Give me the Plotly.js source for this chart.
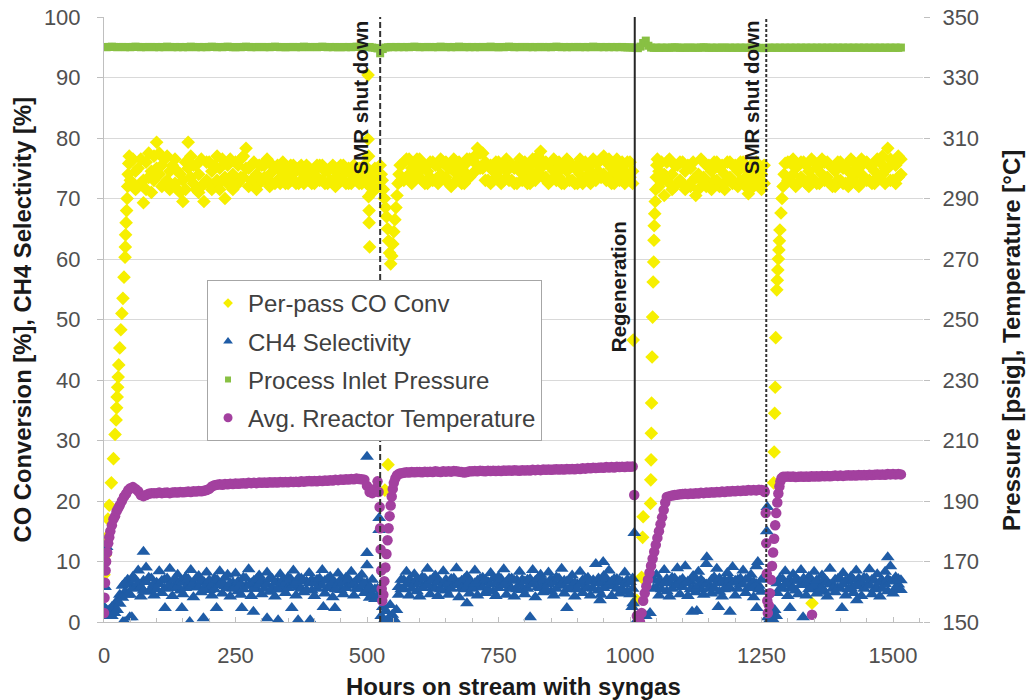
<!DOCTYPE html>
<html><head><meta charset="utf-8">
<script src="https://cdn.plot.ly/plotly-3.0.1.min.js"></script>
<style>html,body{margin:0;padding:0;background:#fff}#chart{width:1030px;height:700px}</style>
</head><body><div id="chart"></div>
<script>
// Sampling grid (hours on stream), 5 h steps
const hours = [
0,5,10,15,20,25,30,35,40,45,
50,55,60,65,70,75,80,85,90,95,
100,105,110,115,120,125,130,135,140,145,
150,155,160,165,170,175,180,185,190,195,
200,205,210,215,220,225,230,235,240,245,
250,255,260,265,270,275,280,285,290,295,
300,305,310,315,320,325,330,335,340,345,
350,355,360,365,370,375,380,385,390,395,
400,405,410,415,420,425,430,435,440,445,
450,455,460,465,470,475,480,485,490,495,
500,505,510,515,520,525,530,535,540,545,
550,555,560,565,570,575,580,585,590,595,
600,605,610,615,620,625,630,635,640,645,
650,655,660,665,670,675,680,685,690,695,
700,705,710,715,720,725,730,735,740,745,
750,755,760,765,770,775,780,785,790,795,
800,805,810,815,820,825,830,835,840,845,
850,855,860,865,870,875,880,885,890,895,
900,905,910,915,920,925,930,935,940,945,
950,955,960,965,970,975,980,985,990,995,
1000,1005,1010,1015,1020,1025,1030,1035,1040,1045,
1050,1055,1060,1065,1070,1075,1080,1085,1090,1095,
1100,1105,1110,1115,1120,1125,1130,1135,1140,1145,
1150,1155,1160,1165,1170,1175,1180,1185,1190,1195,
1200,1205,1210,1215,1220,1225,1230,1235,1240,1245,
1250,1255,1260,1265,1270,1275,1280,1285,1290,1295,
1300,1305,1310,1315,1320,1325,1330,1335,1340,1345,
1350,1355,1360,1365,1370,1375,1380,1385,1390,1395,
1400,1405,1410,1415,1420,1425,1430,1435,1440,1445,
1450,1455,1460,1465,1470,1475,1480,1485,1490,1495,
1500,1505,1510,1515
];

// Per-pass CO conversion [%], first reading at each grid time
const coConv = [
null,null,null,null,null,null,null,null,null,null,
73,76.5,71.5,75,72.5,69.3,76,73.5,71,77,
79.3,74,72,76.5,73,71.5,75.5,72.5,74.5,71,
69.5,76,79.3,73.5,75.5,71.5,74,72,69.5,73,
76,74.5,72,77,75,73,70,72.5,76.5,74,
72.5,75.5,73.5,77,78.3,75,73,76,74,72.5,
75.5,73.5,76.5,74,72.5,75,73,74.5,76,72.5,
74,75.5,73,74.5,72.5,75.5,74,73,75,72.5,
74.5,73.5,75.5,73,72.5,74.5,75,73,72,74,
75.5,73,74.5,72.5,74,73.5,75,72.5,74,73.5,
72.5,74,71,72.5,74,73,null,null,null,null,
null,null,null,75.5,73,76.5,74,72.5,75.5,76.5,
73.5,75,72.5,74.5,76,73,75.5,72.5,74,76,
73.5,75,72,74.5,76,73.5,75,72.5,74,76.5,
74,77,78.3,77.5,75,73,75.5,72.5,74.5,76,
73.5,75,73,74.5,76,73,75,72.5,74.5,76,
73.5,75,72.5,74,76,77,77.8,76,73.5,75.5,
73,74.5,76,73.5,75,72.5,74.5,76,73,75,
72.5,74,75.5,73.5,75,72.5,74,76,74.5,76.5,
77,76,73.5,75,72.5,74,75.5,73,74.5,76,
73.5,74.5,null,null,null,null,null,null,null,null,
null,74.5,76,70.5,73.5,76.5,74,72,75.5,73,
76,74.5,72,75,73,70.5,74,76.5,73.5,75.5,
72.5,74.5,76,73,75,72,74,76,73.5,75.5,
72.5,74.5,76,73,75,70.8,72.5,75,73.5,75.5,
74,72.5,null,null,null,null,null,null,null,null,
73,76,74,72,75.5,73.5,76,72.5,74.5,76.5,
73,75,72.5,74,76,73.5,75.5,72,74.5,76,
73,75,72.5,74.5,76.5,73.5,75,72,74,76,
73,75.5,72.5,74.5,76.5,73.5,77,75,78.3,73,
76,72.5,77,74
];
// Per-pass CO conversion [%], second reading at each grid time
const coConvB = [
null,null,null,null,null,null,null,null,null,null,
76,72.5,74.5,72,76.5,73,71.5,77.5,74.5,73,
75,77.5,75.5,72.5,77,74.5,72,76.5,71.5,74,
73,71.5,75,77,72.5,75.5,71,76.5,72.5,76,
72.5,71.5,75.5,73,71.5,76.5,73.5,75.5,72.5,71.5,
76,72.5,76.5,73.5,75,72,75.5,73,71.5,75.5,
73,75.5,73,72,75.5,72.5,75.5,72.5,73.5,75,
72.5,73,75.5,72.5,75,73,72.5,75.5,73,74.5,
72.5,75.5,73,75.5,74.5,72.5,73,75.5,74.5,72.5,
73,75.5,72.5,75,72.5,75.5,73,75,72.5,75.5,
75,72,73.5,75,72,75.5,null,null,null,null,
null,null,null,73,76,73.5,76.5,75,73,74,
76.5,73,75.5,72.5,73.5,76,73,75.5,76.5,73.5,
76,72.5,75,76.5,73,76,72.5,75.5,76.5,73.5,
76.5,74.5,75.5,75,77.5,76,73,75.5,73,73.5,
76,72.5,75.5,76.5,73,75.5,72.5,75.5,76.5,73,
76,72.5,75.5,76.5,73,74.5,75,73.5,76,72.5,
75.5,76.5,73,76,72.5,75.5,76.5,73,75.5,72.5,
75.5,76.5,72.5,76,73,75.5,76.5,73,76,73.5,
74,73,76.5,72.5,75.5,76.5,73,76,72.5,73.5,
76,72.5,null,null,null,null,null,null,null,null,
null,72,73,74,76,72.5,71.5,75.5,72.5,76,
72.5,71.5,75.5,72,76,73.5,71.5,73,76,72,
75.5,71.5,73,76,72,75.5,71.5,73,76,72.5,
75.5,72,73,76,72,74,75.5,72,76,72.5,
71.5,75.5,null,null,null,null,null,null,null,null,
76,73,76.5,75,72.5,76,73,75.5,72,73.5,
76,72.5,75.5,76.5,73,76,72.5,75,72,73,
76,72.5,75.5,72,73,76,72.5,75,76.5,73,
76,73,75.5,72.5,73.5,76,74,72.5,75,76.5,
73,75.5,73.5,76.5
];
// CO conversion readings during start-ups and upsets
const coExtraHours = [
0,2,5,7.5,10,14,18,21,23,24,25,26,27,28,30,32,34,36,38,40,40.5,41,42,43,44,45,46,47,48,
502,502,503,503,504,504,505,
527,529,531,533,535,537,539,541,543,545,547,549,551,553,555,557,559,561,563,
534,540,
1006,
1013,1022,1024,1025,
1039,1039.5,1040,1040.5,1041,1042,1043,1044,1045,1045.5,1046,1047,1048,1049,1050,1051,1052,
1273,1274,1275,1276,1277,1279,1280,1281,1282,1283,1284,1285,1287,1289,1291,1293,1295,
1346
];
const coConvExtra = [
7.8,11,14,17,19.3,23,27,31,33.4,35.4,37.2,38.8,40.5,42.5,45.3,48.3,51,53.5,57,60.3,62,64,66,68,70,72,74,75.8,77,
90.4,79.8,77,70.3,68,66,62,
74,73,71.5,70,68.5,67,65,63,61,59.2,60.5,62.5,64.5,66.5,68.5,70.5,72.5,74,75.5,
21.8,26,
46.6,
3.6,7.4,14,17.4,
19.6,23.5,26.8,31.2,36.2,43.8,50.4,56.2,59.5,63.1,65.5,67.5,69.5,71.5,73.5,75.5,76.5,
23,28.1,34.5,38.8,47,54.9,56.5,58.2,60,61.5,63,64.8,67.6,70,72,74,75.8,
3.1
];

// CH4 selectivity [%], first reading at each grid time
const ch4Sel = [
1.5,1,2,1,2.5,3.5,4.5,6,5,7,
4.5,7.5,5.5,8.5,4.2,6.8,9,5,7.2,4.4,
6.5,8.4,4.8,7,5.6,8.8,4.3,6.2,7.8,5.2,
4.6,7.4,6,8.6,4.1,5.8,7.6,4.9,6.6,8.2,
5.3,4.4,7.2,6.1,8.4,4.7,5.9,7.8,4.2,6.5,
8,5.1,4.5,7.3,6,8.7,4.3,6.8,5.5,7.7,
4.6,6.3,8.2,5,7.1,4.2,6.6,7.9,5.4,4.8,
7.4,6,8.5,4.4,5.8,7.2,4.9,6.7,8.1,5.2,
4.3,7,6.2,8.6,4.7,5.6,7.5,4.1,6.4,8,
5.3,4.6,7.3,6,8.3,4.4,6.9,5.5,7.8,4.8,
6.5,4,7,3.8,5.5,null,null,null,null,null,
null,null,4.5,7,5.5,8.3,4.4,6.6,7.9,5.1,
4.2,7.4,6,8.8,4.6,5.7,7.7,4.3,6.5,8.4,
5.2,4.5,7.1,6.2,8.9,4.1,6.8,5.4,7.6,4.7,
6.3,8.5,4.4,5.9,7.3,4.8,6.6,8.1,5,4.3,
7.5,6.1,8.7,4.5,5.6,7.2,4.2,6.9,8.3,5.3,
4.6,7,6.3,8.6,4.1,5.8,7.8,4.9,6.4,8.2,
5.1,4.4,7.4,6,8.8,4.7,6.7,5.5,7.7,4.2,
6.2,8.3,4.8,5.7,7.3,4.4,6.9,9.6,5.2,4.5,
7.6,6.1,8.5,4.3,5.9,7.1,4.7,6.6,8.2,5,
4.6,7.2,null,null,null,null,null,null,null,5.5,
7.8,4.4,6.5,8.6,5.1,4.2,7.3,6,8.9,4.6,
5.8,9.2,4.3,6.7,7.6,4.9,8.3,5.4,4.5,9.6,
6.2,4.7,7.4,8.8,5,4.2,6.9,8.1,5.6,9.1,
4.4,7,6.3,8.5,4.8,5.7,7.8,4.1,9.2,6,
5,null,null,null,null,null,4.8,7.2,5.6,8.4,
4.3,6.8,7.9,5.2,4.6,8.6,6.1,4.4,7.5,5.8,
8.3,4.7,6.5,7.7,5,4.2,8.8,6.3,4.9,7.1,
5.5,8.1,4.4,6.7,7.5,4.8,8.5,5.9,4.3,7.3,
6,8.7,4.6,5.4,7.9,4.2,6.8,8.3,5.1,9.2,
4.7,7.4,6.2,5.3
];
// CH4 selectivity [%], second reading at each grid time
const ch4SelB = [
2.5,2,1,2.5,1.5,2,3,4,6.5,4.5,
6.2,5.6,7,6.4,5.8,5.2,6.6,7.3,5.5,6.3,
5.4,6.3,6.8,5.5,7.2,6.1,5.6,7.1,5.9,6.7,
6.5,5.6,7.1,6,6.4,7.2,5.7,6.8,5.3,6.2,
6.9,6.1,5.4,7,6.2,6.6,7.3,5.6,6.4,5.5,
5.8,6.7,6.3,5.4,7.2,6,6.4,5.5,7.1,6.2,
6.8,5.5,6.2,7.2,5.6,6.5,5.4,6.1,7,6.4,
5.6,7.1,6.2,6.5,7.3,5.5,6.8,5.3,6.4,7,
6.6,5.5,7.2,6,6.8,7.1,5.6,6.5,5.4,6.2,
7,6.5,5.6,7.1,6.2,6.4,5.5,7.2,6,6.3,
5.2,5.8,4.6,5.4,4.4,null,null,null,null,null,
null,null,5.8,5.4,6.9,6.2,7,5.5,6.3,7.1,
6.6,5.6,7.2,6.3,6.9,7.1,5.5,6.7,5.4,6.2,
7,6.4,5.5,7.2,6.1,6.5,5.6,7.1,5.8,6.6,
5.5,6.4,6.8,7.1,5.7,7,5.4,6.2,7.2,6.5,
5.6,7.1,6.2,6.6,7.2,5.5,6.8,5.4,6.3,7,
6.7,5.5,7.1,6.2,6.8,7.2,5.6,6.9,5.4,6.3,
7.1,6.6,5.5,7.2,6.2,6.8,5.4,7,5.8,6.5,
5.4,6.3,6.9,7.1,5.6,6.7,5.5,6.4,7.2,6.6,
5.6,7.2,6.3,6.7,7.1,5.5,6.8,5.4,6.2,7,
6.6,5.5,null,null,null,null,null,null,null,7,
5.6,6.8,5.4,6.4,7.1,6.6,5.5,7.2,6.2,6.8,
7.1,6.4,6.7,5.4,5.6,7.2,6,7,6.5,6.2,
5.5,7,5.6,6.4,7.2,6.6,5.4,6.1,7.1,6.5,
6.8,5.5,7.2,6.2,7,7.1,5.6,6.6,6.3,5.4,
7,null,null,null,null,null,6.4,5.5,7.1,6.2,
6.6,5.5,5.6,7.1,6.8,6.2,7.2,6.5,5.4,7,
6.1,6.9,5.4,5.6,7.1,6.6,6.2,5.5,7,5.6,
7.1,6.2,6.8,5.4,5.6,7,6.1,7.2,6.6,5.5,
7.2,6.1,7,6.8,5.6,6.6,5.5,6.3,7.1,6.7,
6.8,5.6,7.1,6.9
];
// CH4 selectivity outliers and upset readings
const ch4ExtraHours = [
2,5,36,40,49,53,75,116,148,163,189,214,262,284,310,331,357,369,392,417,439,
500,500,500,523,523,527,530,533,536,540,544,548,552,556,
690,810,880,943,949,1004,1006,1008,1015,1030,1038,
1118,1127,1146,1168,1190,1241,1243,1260,1261,1262,1265,1268,1271,1275,1278,
1304,1329,1403,1431,1490
];
const ch4SelExtra = [
5.8,12.4,0,0,0.8,0.8,11.6,2.3,2.3,0,0.6,2.3,2.3,1.7,0.6,0.3,2.3,0.3,0.3,2.5,2.3,
27.3,11.4,9.4,17.2,15.2,1,2.5,0.3,1.8,0.5,2.8,1.2,0.4,2,
3.1,0.8,2.3,3.6,9.9,2.5,3.1,14.7,0.5,1,1.5,
1.7,1.8,10.7,2.5,1.7,2.3,9.9,15,19,0.8,0.3,1.5,0.5,2,1,
2.3,0.8,2.3,3.6,10.7
];

// Process inlet pressure [psig] on the grid
const inletPressure = [
340.1,340,340.1,340.2,340.1,340,340.1,340.1,340,340.1,
340,340.1,340.2,340.1,340,340.1,340,340.1,340.1,340,
340.1,340,340.1,340,340.2,340.1,340,340.1,340,340.1,
340,340.1,340,340.2,340.1,340,340.1,340,340.1,340,
340.1,340.2,340.1,340,340.1,340,340.1,340.2,340.1,340,
340,340.1,340,340.1,340.2,340.1,340,340.1,340,340.1,
340.1,340,340.1,340,340.1,340.2,340.1,340,340.1,340,
340,340.1,340.1,340,340.1,340,340.2,340.1,340,340.1,
340.1,340,340.1,340.2,340.1,340,340.1,340,340.1,340,
340,340.1,340,340.1,340,340.1,340.2,340.1,340,340.1,
340,340.1,339.9,339.8,339.6,338,339.4,339.9,340,340.1,
340,340.1,340,340.1,340,340.1,340,340.1,340.2,340.1,
340,340.1,340,340.1,340.1,340,340.1,340,340.2,340.1,
340,340.1,340,340.1,340,340.2,340.1,340,340.1,340,
340.1,340,340.1,340,340.1,340.1,340,340.2,340.1,340,
340,340.1,340,340.1,340.2,340.1,340,340.1,340,340.1,
340.1,340,340.1,340,340.1,340,340.1,340.1,340,340.1,
340,340.1,340.2,340.1,340,340.1,340,340.1,340,340.1,
340.1,340,340.1,340,340.1,340,340.2,340.1,340,340.1,
340,340.1,340,340.1,340,340.1,340,340.1,340,339.9,
340,339.9,339.8,339.7,340.2,341.4,342.2,340.5,339.9,339.8,
339.9,339.8,339.9,339.8,339.9,339.8,339.9,340,339.9,339.8,
339.9,339.8,339.9,339.9,339.8,339.9,339.8,339.9,340,339.9,
339.8,339.9,339.8,339.9,339.8,339.9,339.9,339.8,339.9,339.8,
339.9,339.8,339.9,339.8,339.9,339.8,339.9,339.8,339.9,339.8,
339.8,339.7,339.8,339.9,339.8,339.9,339.8,339.9,339.8,339.9,
339.8,339.9,339.8,339.9,339.8,339.9,339.8,339.9,339.8,339.9,
339.8,339.9,339.8,339.9,339.8,339.9,339.8,339.9,339.8,339.9,
339.8,339.9,339.8,339.9,339.8,339.9,339.8,339.9,339.8,339.9,
339.8,339.9,339.8,339.9,339.8,339.9,339.8,339.9,339.8,339.9,
339.8,339.9,339.8,339.9
];

// Average reactor temperature [°C] on the grid
const reactorTemp = [
null,null,null,null,null,null,null,null,null,null,
194.2,194.6,194,193.2,192,191.6,192,192.4,192.6,192.6,
192.6,192.8,192.6,192.7,192.8,192.6,192.8,192.9,192.8,193,
192.9,193,193.1,193,193.2,193.1,193.3,193.2,193.4,193.6,
194,194.8,195.2,195.4,195.5,195.4,195.6,195.5,195.7,195.6,
195.8,195.7,195.8,195.9,195.8,196,195.9,196,195.9,196.1,
196,196.1,196,196.2,196.1,196.2,196.1,196.3,196.2,196.3,
196.2,196.4,196.3,196.4,196.3,196.5,196.4,196.5,196.6,196.5,
196.6,196.5,196.7,196.6,196.8,196.7,196.9,196.8,197,196.9,
197.1,197,197.2,197.1,197.3,197.2,197.4,197.3,197.2,197,
195,193,192.6,194,196.5,null,null,null,null,null,
null,null,null,null,199.3,199.5,199.4,199.6,199.5,199.6,
199.6,199.5,199.7,199.6,199.7,199.6,199.8,199.7,199.6,199.8,
199.7,199.8,199.7,199.9,199.8,199.7,199.6,199.4,199.6,199.8,
199.8,199.9,199.8,200,199.9,199.8,200,199.9,200,199.9,
200,199.9,200.1,200,200.1,200,200.2,200.1,200,200.2,
200.1,200.2,200.1,200.3,200.2,200.3,200.2,200.4,200.3,200.4,
200.3,200.4,200.5,200.4,200.5,200.4,200.6,200.5,200.6,200.5,
200.7,200.6,200.8,200.7,200.9,200.8,201,200.9,201,201.1,
201,201.2,201.1,201.2,201.1,201.3,201.2,201.3,201.2,201.4,
201.3,201.4,null,null,null,null,null,null,null,null,
null,null,null,null,191.3,191.6,191.8,192,192.1,192.2,
192.3,192.4,192.3,192.5,192.4,192.6,192.5,192.7,192.6,192.8,
192.7,192.9,192.8,193,192.9,193.1,193,193.2,193.1,193.3,
193.2,193.4,193.3,193.5,193.4,193.6,193.5,193.6,193.5,193.7,
193.6,193.5,null,null,null,null,null,null,null,198,
198.1,198,198.1,197.9,198,198.1,198,198.1,198,198.2,
198.1,198.2,198.1,198.3,198.2,198.3,198.2,198.3,198.4,198.3,
198.4,198.3,198.4,198.5,198.4,198.5,198.4,198.6,198.5,198.6,
198.5,198.7,198.6,198.7,198.8,198.7,198.8,198.7,198.9,198.8,
198.9,198.8,198.9,198.8
];
// Temperature readings during start-ups and shutdowns
const tempExtraHours = [
0,1,2,3,4,6,8,10,12,15,18,21,24,27,30,34,38,42,46,
522,524,525,526,527,528,529,531,533,535,537,539,541,543,545,547,549,551,554,557,561,565,
1008,1013,1016,1019,1022,1025,1028,1031,1034,1037,1040,1043,1046,1049,1052,1055,1058,1061,1064,1067,
1256,1258,1259,1260,1261,1262,1264,1266,1268,1270,1272,1274,1276,1278,1280,1282,1284,1286,1288,1291,
1346
];
const reactorTempExtra = [
153,158,163,167,170,173,176,178,180,182,184,185,186.6,187.6,188.6,190,191.4,192.4,193.6,
193,188,181,174,167,161,157,159,163.5,168,172.5,177,181,185,188.5,191.5,194,196,197.5,198.5,199,199.2,
192,152,150.5,150,153,157,159.5,161.8,164,166.3,168.6,170.9,173.2,175.5,177.8,180,182.3,184.6,187,189.5,
193,186,176,166,157,153,155.5,159.5,164,168.5,173,177.5,182,186,189.5,192.5,194.8,196.5,197.5,198,
152.4
];

// Events
const eventHours = [525, 1009, 1259];
const eventLabels = ['SMR shut down', 'Regeneration', 'SMR shut down'];
const eventDash = ['6px,3px', 'solid', '3px,2px'];
const eventLabelHours = [487, 977, 1230];
const eventLabelY = [99.8, 55.5, 99.8];
const eventLabelAnchor = ['top', 'middle', 'top'];

const seriesNames = ['Per-pass CO Conv', 'CH4 Selectivity', 'Process Inlet Pressure', 'Avg. Rreactor Temperature'];
const xTicks = [0, 250, 500, 750, 1000, 1250, 1500];

const FONT = 'Liberation Sans, Arial, Helvetica, sans-serif';
const COL = {co:'#F6EF00', ch4:'#1F5CA6', p:'#88C043', t:'#A3409F'};

const traces = [
  {type:'scatter', mode:'markers', name:seriesNames[0], showlegend:false,
   x: hours.concat(hours, coExtraHours), y: coConv.concat(coConvB, coConvExtra), yaxis:'y',
   marker:{symbol:'diamond', size:10.5, color:COL.co, line:{width:0}}},
  {type:'scatter', mode:'markers', name:seriesNames[1], showlegend:false,
   x: hours.concat(hours, ch4ExtraHours), y: ch4Sel.concat(ch4SelB, ch4SelExtra), yaxis:'y',
   marker:{symbol:'triangle-up', size:12, color:COL.ch4, line:{width:0}}},
  {type:'scatter', mode:'markers', name:seriesNames[2], showlegend:false,
   x: hours, y: inletPressure, yaxis:'y2',
   marker:{symbol:'square', size:8, color:COL.p, line:{width:0}}},
  {type:'scatter', mode:'markers', name:seriesNames[3], showlegend:false,
   x: hours.concat(tempExtraHours), y: reactorTemp.concat(reactorTempExtra), yaxis:'y2',
   marker:{symbol:'circle', size:10.5, color:COL.t, line:{width:0}}},
  // legend keys (no data)
  {type:'scatter', mode:'markers', name:seriesNames[0], legendgroup:'a', x:[null], y:[null],
   marker:{symbol:'diamond', size:7.5, color:COL.co}},
  {type:'scatter', mode:'markers', name:seriesNames[1], legendgroup:'b', x:[null], y:[null],
   marker:{symbol:'triangle-up', size:8.5, color:COL.ch4}},
  {type:'scatter', mode:'markers', name:seriesNames[2], legendgroup:'c', x:[null], y:[null],
   marker:{symbol:'square', size:6, color:COL.p}},
  {type:'scatter', mode:'markers', name:seriesNames[3], legendgroup:'d', x:[null], y:[null],
   marker:{symbol:'circle', size:9, color:COL.t}}
];

const shapes = eventHours.map((h, i) => ({
  type:'line', xref:'x', yref:'paper', x0:h, x1:h, y0:0, y1:1, layer:'above',
  line:{color: i === 1 ? '#262626' : '#333333', width: 2, dash: eventDash[i]}
}));

const annotations = eventLabels.map((t, i) => ({
  text:'<b>' + t + '</b>', xref:'x', yref:'y', x:eventLabelHours[i], y:eventLabelY[i],
  xanchor:'center', yanchor:eventLabelAnchor[i], textangle:-90, showarrow:false,
  font:{family:FONT, size:20.5, color:'#1a1a1a'}
}));
annotations.push(
  {text:'<b>CO Conversion [%], CH4 Selectivity [%]</b>', xref:'paper', yref:'paper',
   x:-0.1001, y:0.5, xanchor:'center', yanchor:'middle', textangle:-90, showarrow:false,
   font:{family:FONT, size:23.8, color:'#1a1a1a'}},
  {text:'<b>Pressure [psig], Temperature [°C]</b>', xref:'paper', yref:'paper',
   x:1.1087, y:0.4645, xanchor:'center', yanchor:'middle', textangle:-90, showarrow:false,
   font:{family:FONT, size:24, color:'#1a1a1a'}},
  {text:'<b>Hours on stream with syngas</b>', xref:'paper', yref:'paper',
   x:0.5, y:-0.1058, xanchor:'center', yanchor:'middle', showarrow:false,
   font:{family:FONT, size:24, color:'#1a1a1a'}}
);

const layout = {
  width:1030, height:700,
  margin:{l:104, r:107, t:17, b:78},
  paper_bgcolor:'#ffffff', plot_bgcolor:'#ffffff',
  font:{family:FONT, color:'#505050'},
  showlegend:true,
  legend:{x:0.1258, y:0.5653, xanchor:'left', yanchor:'top', bgcolor:'#ffffff',
    bordercolor:'#a6a6a6', borderwidth:1, traceorder:'grouped', tracegroupgap:4,
    font:{family:FONT, size:24, color:'#404040'}},
  xaxis:{range:[0,1557], tickvals:xTicks, ticks:'inside', ticklen:5, tickcolor:'#bfbfbf',
    showline:true, linecolor:'#bfbfbf', linewidth:1, showgrid:false, zeroline:false,
    tickfont:{family:FONT, size:22, color:'#505050'}, ticklabelstandoff:14,
    minor:{dtick:50, tick0:0, ticks:'inside', ticklen:4, tickcolor:'#bfbfbf', showgrid:false}},
  yaxis:{range:[0,100], dtick:10, tick0:0, ticks:'outside', ticklen:6, tickcolor:'#bfbfbf',
    showline:true, linecolor:'#bfbfbf', linewidth:1, showgrid:true, gridcolor:'#d9d9d9',
    zeroline:false, tickfont:{family:FONT, size:22, color:'#505050'}, ticklabelstandoff:12},
  yaxis2:{range:[150,350], dtick:20, tick0:150, overlaying:'y', side:'right', ticks:'outside',
    ticklen:6, tickcolor:'#bfbfbf', showline:false, showgrid:false, zeroline:false,
    tickfont:{family:FONT, size:22, color:'#505050'}, ticklabelstandoff:8},
  shapes:shapes,
  annotations:annotations
};

Plotly.newPlot('chart', traces, layout, {displayModeBar:false, staticPlot:true});
</script></body></html>
